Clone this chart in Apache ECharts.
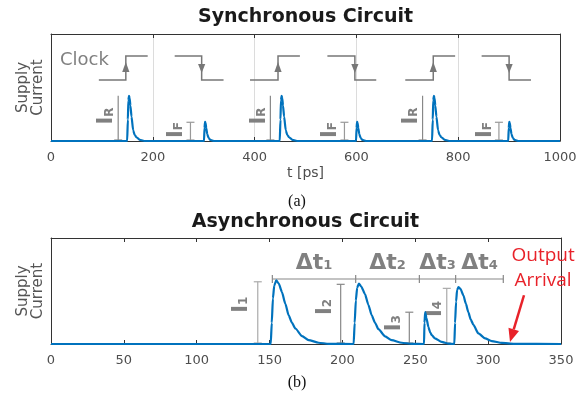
<!DOCTYPE html>
<html><head><meta charset="utf-8">
<script src="https://cdn.jsdelivr.net/npm/echarts@6/dist/echarts.min.js"></script>
<style>html,body{margin:0;padding:0;background:#fff}#c{width:585px;height:402px}</style>
</head><body><div id="c"></div>
<script>
// ---------- data ----------
const syncTicks = [0, 200, 400, 600, 800, 1000];
const asyncTicks = [0, 50, 100, 150, 200, 250, 300, 350];

const syncCurrent = [
  [0,0],
  [149.6,0],[151,0.2],[152,0.38],[153.2,0.423],[154.5,0.40],[156,0.33],[158.2,0.227],[161.4,0.10],[164.5,0.055],[168,0.035],[174.5,0.01],[185,0],
  [300.6,0],[301.6,0.12],[302.6,0.18],[303.6,0.17],[305,0.12],[307,0.065],[309.5,0.03],[313,0.01],[320,0],
  [449.4,0],[450.8,0.2],[451.8,0.38],[453,0.423],[454.3,0.40],[455.8,0.33],[458,0.227],[461.2,0.10],[464.3,0.055],[467.8,0.035],[474.3,0.01],[485,0],
  [599.3,0],[600.3,0.12],[601.3,0.18],[602.3,0.17],[603.7,0.12],[605.7,0.065],[608.2,0.03],[611.7,0.01],[619,0],
  [748.6,0],[750,0.2],[751,0.38],[752.2,0.423],[753.5,0.40],[755,0.33],[757.2,0.227],[760.4,0.10],[763.5,0.055],[767,0.035],[773.5,0.01],[784,0],
  [898.3,0],[899.3,0.12],[900.3,0.18],[901.3,0.17],[902.7,0.12],[904.7,0.065],[907.2,0.03],[910.7,0.01],[918,0],
  [1000,0]
];

const asyncCurrent = [
  [0,0],
  [150.8,0],[151.5,0.2],[152.3,0.43],[153.2,0.55],[154.6,0.60],[156.3,0.57],[158.5,0.49],[160.8,0.38],[163.1,0.27],[165.4,0.2],[167.7,0.146],[172.3,0.075],[176.8,0.037],[183.7,0.012],[190.6,0.002],
  [207.7,0],[208.4,0.2],[209.2,0.41],[210.1,0.53],[211.3,0.57],[213,0.54],[215.5,0.47],[217.8,0.37],[220.1,0.27],[222.4,0.2],[224.7,0.14],[229.3,0.072],[233.8,0.036],[240.7,0.012],[247.5,0.002],
  [256,0],[256.3,0.2],[256.8,0.30],[257.6,0.25],[259,0.16],[260.2,0.11],[261.3,0.084],[263.5,0.053],[268.1,0.02],[273,0.003],
  [276.8,0],[277.3,0.2],[278,0.40],[278.7,0.51],[279.6,0.537],[281,0.52],[283,0.46],[284.7,0.38],[286.4,0.30],[288.1,0.23],[289.9,0.18],[293.3,0.10],[297.9,0.053],[302.5,0.028],[309.4,0.01],[318,0.002],
  [350,0]
];

// clock: [segment start, edge, segment end]
const clockLow = 0.57, clockHigh = 0.794;
const clockRise = [[94,147,190],[391,446,489],[696,751,794]];
const clockFall = [[243,296,339],[543,597,639],[846,900,943]];
const clockLabel = [65.7, 0.757];

// dimension markers in sync chart: [line x, top, label x, label y]
const syncIR = [[132,0.423,110,0.234],[431,0.423,410,0.234],[730,0.423,708,0.234]];
const syncIF = [[274,0.175,247,0.103],[576.5,0.175,549,0.103],[880,0.175,853,0.103]];

// async markers: [line x, top, label x, label y]
const asyncI = [[141.9,0.587,130.9,0.37],[198.8,0.563,188.6,0.35],[245.9,0.30,235.5,0.197],[271.6,0.525,264.1,0.33]];
const asyncISub = ['1','2','3','4'];
const dtTicks = [151.9, 209.1, 252.8, 277.7, 310.4];
const dtSub = ['1','2','3','4'];
const dtLevel = 0.613, dtLabelY = 0.76;
const outArrow = [[324.6,0.46],[315,0.02]];
const outLabel = [337.7, 0.72];

// ---------- chart ----------
const FONT = 'DejaVu Sans';
const GRAY = '#808080';
const chart = echarts.init(document.getElementById('c'), null, {renderer:'canvas'});

function boxAxesX(grid, min, max, interval, name, withSplit) {
  return [
    {gridIndex:grid, type:'value', min, max, interval, position:'bottom',
     axisLine:{show:true, onZero:false, lineStyle:{color:'#333', width:1}},
     axisTick:{show:true, inside:true, length:4, lineStyle:{color:'#333'}},
     axisLabel:{color:'#4d4d4d', fontSize:13, fontFamily:FONT, margin:10, formatter:v => String(v)},
     splitLine:{show:withSplit, lineStyle:{color:'#dcdcdc', width:1}},
     name, nameLocation:'middle', nameGap:25,
     nameTextStyle:{color:'#4d4d4d', fontSize:14, fontFamily:FONT}},
    {gridIndex:grid, type:'value', min, max, interval, position:'top',
     axisLine:{show:true, onZero:false, lineStyle:{color:'#333', width:1}},
     axisTick:{show:true, inside:true, length:4, lineStyle:{color:'#333'}},
     axisLabel:{show:false}, splitLine:{show:false}}
  ];
}
function boxAxesY(grid) {
  return [
    {gridIndex:grid, type:'value', min:0, max:1, position:'left',
     axisLine:{show:true, onZero:false, lineStyle:{color:'#333', width:1}},
     axisTick:{show:false}, axisLabel:{show:false}, splitLine:{show:false},
     name:'Supply\nCurrent', nameLocation:'middle', nameGap:5, nameRotate:90,
     nameTextStyle:{color:'#555', fontSize:15, fontFamily:FONT, lineHeight:15}},
    {gridIndex:grid, type:'value', min:0, max:1, position:'right',
     axisLine:{show:true, onZero:false, lineStyle:{color:'#333', width:1}},
     axisTick:{show:false}, axisLabel:{show:false}, splitLine:{show:false}}
  ];
}

function richLabel(big, sub, bigSize, subSize) {
  return {
    text: '{a|' + big + '}{b|' + sub + '}',
    rich: {
      a: {fontSize:bigSize, fontWeight:'bold', fontFamily:FONT, fill:GRAY, verticalAlign:'bottom'},
      b: {fontSize:subSize, fontWeight:'bold', fontFamily:FONT, fill:GRAY, verticalAlign:'bottom', padding:[0,0,2,0]}
    },
    fill: GRAY, align:'center', verticalAlign:'middle'
  };
}

function dimMarker(api, lx, top, lab, labY, big, sub, topCap, color) {
  const p0 = api.coord([lx, 0]);
  const p1 = api.coord([lx, top]);
  const children = [
    {type:'line', shape:{x1:p0[0], y1:p0[1]-1, x2:p1[0], y2:p1[1]}, style:{stroke:color, lineWidth:1.2}},
    {type:'line', shape:{x1:p0[0]-4, y1:p0[1]-1, x2:p0[0]+4, y2:p0[1]-1}, style:{stroke:color, lineWidth:1.2}}
  ];
  if (topCap) children.push({type:'line', shape:{x1:p1[0]-4, y1:p1[1], x2:p1[0]+4, y2:p1[1]}, style:{stroke:color, lineWidth:1.2}});
  const t = api.coord([lab, labY]);
  const st = richLabel(big, sub, 21, 12);
  children.push({type:'text', x:t[0], y:t[1], rotation:Math.PI/2, style:st});
  return {type:'group', children};
}

const option = {
  animation:false,
  backgroundColor:'#fff',
  grid:[
    {left:51, right:25, top:34, height:107, containLabel:false},
    {left:51, right:24, top:238, height:106, containLabel:false}
  ],
  xAxis:[...boxAxesX(0, syncTicks[0], syncTicks[syncTicks.length-1], syncTicks[1]-syncTicks[0], 't [ps]', true),
         ...boxAxesX(1, asyncTicks[0], asyncTicks[asyncTicks.length-1], asyncTicks[1]-asyncTicks[0], '', false)],
  yAxis:[...boxAxesY(0), ...boxAxesY(1)],
  graphic:[
    {type:'text', x:305.5, y:17, style:{text:'Synchronous Circuit', font:'bold 19px "DejaVu Sans"', fill:'#1a1a1a', align:'center', verticalAlign:'middle'}},
    {type:'text', x:305.5, y:222, style:{text:'Asynchronous Circuit', font:'bold 19px "DejaVu Sans"', fill:'#1a1a1a', align:'center', verticalAlign:'middle'}},
    {type:'text', x:297, y:202, style:{text:'(a)', font:'16px "Liberation Serif"', fill:'#111', align:'center', verticalAlign:'middle'}},
    {type:'text', x:297, y:383, style:{text:'(b)', font:'16px "Liberation Serif"', fill:'#111', align:'center', verticalAlign:'middle'}}
  ],
  series:[
    // clock waveforms
    {type:'custom', xAxisIndex:0, yAxisIndex:0, silent:true, z:3,
     data: clockRise.map(d => [d[0], d[1], d[2], 1]).concat(clockFall.map(d => [d[0], d[1], d[2], 0])),
     renderItem:(params, api) => {
       const s = api.value(0), e = api.value(1), f = api.value(2), rise = api.value(3) === 1;
       const a = rise ? clockLow : clockHigh, b = rise ? clockHigh : clockLow;
       const pts = [api.coord([s,a]), api.coord([e,a]), api.coord([e,b]), api.coord([f,b])];
       const hi = api.coord([e, clockHigh]), lo = api.coord([e, clockLow]);
       let head;
       if (rise) {
         const tip = hi[1] + 6, base = tip + 10;
         head = [[hi[0], tip],[hi[0]-3.6, base],[hi[0]+3.6, base]];
       } else {
         const tip = lo[1] - 7, base = tip - 9;
         head = [[lo[0], tip],[lo[0]-3.6, base],[lo[0]+3.6, base]];
       }
       return {type:'group', children:[
         {type:'polyline', shape:{points:pts}, style:{stroke:'#777', lineWidth:1.5, fill:null}},
         {type:'polygon', shape:{points:head}, style:{fill:'#777'}}
       ]};
     }},
    {type:'custom', xAxisIndex:0, yAxisIndex:0, silent:true, z:3, data:[clockLabel],
     renderItem:(params, api) => {
       const p = api.coord([api.value(0), api.value(1)]);
       return {type:'text', x:p[0], y:p[1], style:{text:'Clock', font:'18px "DejaVu Sans"', fill:GRAY, align:'center', verticalAlign:'middle'}};
     }},
    // sync IR / IF markers
    {type:'custom', xAxisIndex:0, yAxisIndex:0, silent:true, z:3, data:syncIR,
     renderItem:(params, api) => dimMarker(api, api.value(0), api.value(1), api.value(2), api.value(3), 'I', 'R', false, '#888')},
    {type:'custom', xAxisIndex:0, yAxisIndex:0, silent:true, z:3, data:syncIF,
     renderItem:(params, api) => dimMarker(api, api.value(0), api.value(1), api.value(2), api.value(3), 'I', 'F', true, '#999')},
    // sync current
    {type:'line', xAxisIndex:0, yAxisIndex:0, data:syncCurrent, showSymbol:false, symbol:'none', z:5,
     smooth:0.2, smoothMonotone:'x', lineStyle:{color:'#0072BD', width:2.2}, silent:true},
    // async I markers
    {type:'custom', xAxisIndex:2, yAxisIndex:2, silent:true, z:3, data:asyncI,
     renderItem:(params, api) => dimMarker(api, api.value(0), api.value(1), api.value(2), api.value(3), 'I', asyncISub[params.dataIndex], true, (params.dataIndex % 3 === 0) ? '#aaa' : '#888')},
    // Δt dimension line
    {type:'custom', xAxisIndex:2, yAxisIndex:2, silent:true, z:3, data:[[dtTicks[0], dtLevel]],
     renderItem:(params, api) => {
       const ch = [];
       const a = api.coord([dtTicks[0], dtLevel]), b = api.coord([dtTicks[dtTicks.length-1], dtLevel]);
       ch.push({type:'line', shape:{x1:a[0], y1:a[1], x2:b[0], y2:b[1]}, style:{stroke:'#888', lineWidth:1.2}});
       dtTicks.forEach(t => {
         const p = api.coord([t, dtLevel]);
         ch.push({type:'line', shape:{x1:p[0], y1:p[1]-4, x2:p[0], y2:p[1]+4}, style:{stroke:'#888', lineWidth:1.2}});
       });
       for (let i = 0; i < dtSub.length; i++) {
         const p = api.coord([(dtTicks[i] + dtTicks[i+1]) / 2, dtLabelY]);
         ch.push({type:'text', x:p[0], y:p[1], style:richLabel('Δt', dtSub[i], 22, 13)});
       }
       return {type:'group', children:ch};
     }},
    // output arrival
    {type:'custom', xAxisIndex:2, yAxisIndex:2, silent:true, z:6, data:[outLabel],
     renderItem:(params, api) => {
       const t = api.coord(outArrow[0]), h = api.coord(outArrow[1]);
       const dx = h[0]-t[0], dy = h[1]-t[1], L = Math.hypot(dx, dy), ux = dx/L, uy = dy/L;
       const hl = 13, hw = 5.5;
       const bx = h[0]-ux*hl, by = h[1]-uy*hl;
       const lp = api.coord([api.value(0), api.value(1)]);
       return {type:'group', children:[
         {type:'line', shape:{x1:t[0], y1:t[1], x2:bx, y2:by}, style:{stroke:'#e8222a', lineWidth:2.5}},
         {type:'polygon', shape:{points:[[h[0],h[1]],[bx-uy*hw, by+ux*hw],[bx+uy*hw, by-ux*hw]]}, style:{fill:'#e8222a'}},
         {type:'text', x:lp[0], y:lp[1], style:{text:'Output\nArrival', font:'19px "Open Sans"', lineHeight:25, fill:'#e8222a', align:'center', verticalAlign:'middle'}}
       ]};
     }},
    // async current
    {type:'line', xAxisIndex:2, yAxisIndex:2, data:asyncCurrent, showSymbol:false, symbol:'none', z:5,
     smooth:0.2, smoothMonotone:'x', lineStyle:{color:'#0072BD', width:2.2}, silent:true}
  ]
};
chart.setOption(option);
</script>
</body></html>
